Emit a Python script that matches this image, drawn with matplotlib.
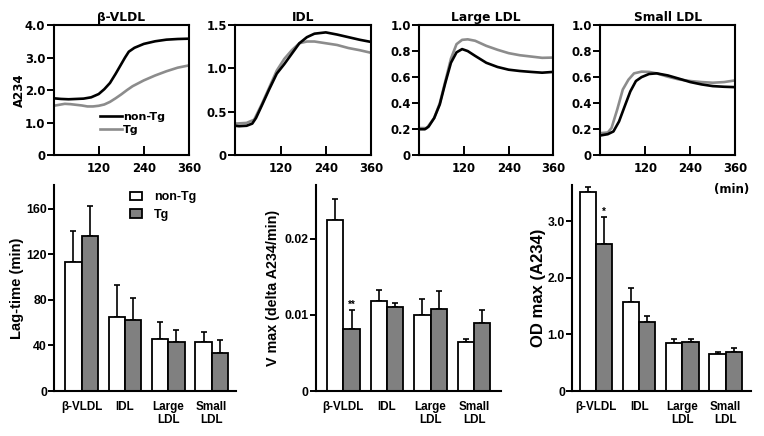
import matplotlib
matplotlib.use("Agg")
import matplotlib.pyplot as plt
from matplotlib.patches import Patch
from matplotlib.lines import Line2D
import numpy as np

# ---------------- data: oxidation kinetics (A234 vs time, min) ----------------
panel_titles = ["β-VLDL", "IDL", "Large LDL", "Small LDL"]

vldl_t_ntg = [0, 20, 40, 60, 80, 100, 120, 135, 150, 165, 180, 190, 200, 215, 240, 270, 300, 330, 360]
vldl_ntg = [1.75, 1.73, 1.72, 1.73, 1.74, 1.78, 1.88, 2.03, 2.22, 2.50, 2.80, 3.00, 3.18, 3.30, 3.42, 3.50, 3.55, 3.57, 3.58]
vldl_t_tg = [0, 15, 30, 45, 60, 75, 90, 105, 120, 135, 150, 165, 180, 195, 210, 240, 270, 300, 330, 360]
vldl_tg = [1.52, 1.55, 1.58, 1.57, 1.55, 1.53, 1.50, 1.50, 1.52, 1.56, 1.64, 1.75, 1.87, 2.00, 2.12, 2.30, 2.45, 2.58, 2.69, 2.76]

idl_t_ntg = [0, 10, 30, 45, 55, 70, 90, 110, 130, 150, 170, 190, 210, 240, 270, 300, 330, 360]
idl_ntg = [0.34, 0.335, 0.34, 0.365, 0.43, 0.57, 0.76, 0.94, 1.05, 1.17, 1.29, 1.36, 1.40, 1.415, 1.39, 1.36, 1.33, 1.305]
idl_t_tg = [0, 30, 50, 70, 90, 110, 130, 150, 170, 190, 210, 240, 270, 300, 330, 360]
idl_tg = [0.365, 0.373, 0.41, 0.586, 0.78, 0.975, 1.11, 1.21, 1.29, 1.31, 1.31, 1.29, 1.27, 1.235, 1.21, 1.18]

lldl_t_ntg = [0, 15, 25, 40, 55, 70, 85, 100, 115, 130, 150, 180, 210, 240, 270, 300, 330, 360]
lldl_ntg = [0.20, 0.20, 0.22, 0.286, 0.39, 0.557, 0.71, 0.79, 0.815, 0.80, 0.763, 0.71, 0.678, 0.657, 0.647, 0.64, 0.634, 0.64]
lldl_t_tg = [0, 20, 40, 55, 70, 85, 100, 115, 130, 150, 180, 210, 240, 270, 300, 330, 360]
lldl_tg = [0.209, 0.209, 0.286, 0.40, 0.57, 0.742, 0.853, 0.886, 0.89, 0.879, 0.84, 0.81, 0.784, 0.768, 0.758, 0.748, 0.75]

sldl_t_ntg = [0, 20, 35, 50, 65, 80, 95, 110, 130, 150, 180, 210, 240, 270, 300, 330, 360]
sldl_ntg = [0.152, 0.162, 0.183, 0.26, 0.376, 0.49, 0.57, 0.60, 0.624, 0.629, 0.613, 0.588, 0.562, 0.544, 0.531, 0.526, 0.523]
sldl_t_tg = [0, 20, 30, 45, 60, 75, 90, 110, 130, 150, 180, 210, 240, 270, 300, 330, 360]
sldl_tg = [0.17, 0.175, 0.21, 0.35, 0.505, 0.58, 0.629, 0.642, 0.64, 0.629, 0.603, 0.582, 0.57, 0.562, 0.557, 0.562, 0.575]

top_ylims = [4.0, 1.5, 1.0, 1.0]
top_yticks = [[0, 1.0, 2.0, 3.0, 4.0], [0, 0.5, 1.0, 1.5],
              [0, 0.2, 0.4, 0.6, 0.8, 1.0], [0, 0.2, 0.4, 0.6, 0.8, 1.0]]
top_xticks = [120, 240, 360]

# ---------------- data: summary bar charts ----------------
categories = ["β-VLDL", "IDL", "Large\nLDL", "Small\nLDL"]

lag_ntg = [113.3, 64.9, 45.8, 43.1]
lag_ntg_err = [27.0, 28.2, 15.2, 9.1]
lag_tg = [136.2, 62.3, 43.1, 33.7]
lag_tg_err = [26.1, 19.0, 10.9, 11.2]

vmax_ntg = [0.0225, 0.0118, 0.0100, 0.00644]
vmax_ntg_err = [0.0027, 0.0015, 0.0021, 0.00045]
vmax_tg = [0.0081, 0.0110, 0.01084, 0.00898]
vmax_tg_err = [0.0026, 0.00056, 0.0023, 0.00164]

od_ntg = [3.515, 1.564, 0.84, 0.653]
od_ntg_err = [0.085, 0.256, 0.078, 0.041]
od_tg = [2.595, 1.224, 0.865, 0.694]
od_tg_err = [0.485, 0.094, 0.055, 0.059]

# ---------------- styling ----------------
W, H = 764, 436
fig = plt.figure(figsize=(W / 100, H / 100), dpi=100)

TOPFONT = "DejaVu Sans"
BOTFONT = "Liberation Sans"
BLACK = "#000000"
GRAY_LINE = "#8c8c8c"
GRAY_BAR = "#808080"


def px_axes(left, right, top, bottom):
    return fig.add_axes([left / W, 1 - bottom / H, (right - left) / W, (bottom - top) / H])


def fmt(v):
    return "0" if v == 0 else f"{v:.1f}"


top_boxes = [(53.5, 189, 25, 155.3), (235.3, 371, 25, 155.3),
             (419.3, 553.3, 25, 155.3), (600.3, 735.3, 25, 155.3)]
curves = [(vldl_t_ntg, vldl_ntg, vldl_t_tg, vldl_tg),
          (idl_t_ntg, idl_ntg, idl_t_tg, idl_tg),
          (lldl_t_ntg, lldl_ntg, lldl_t_tg, lldl_tg),
          (sldl_t_ntg, sldl_ntg, sldl_t_tg, sldl_tg)]

for i, (box, cv) in enumerate(zip(top_boxes, curves)):
    ax = px_axes(*box)
    tn, yn, tt, yt = cv
    ax.plot(tt, yt, color=GRAY_LINE, lw=1.9, solid_capstyle="butt", label="Tg", zorder=2)
    ax.plot(tn, yn, color=BLACK, lw=1.9, solid_capstyle="butt", label="non-Tg", zorder=3)
    ax.set_xlim(0, 360)
    ax.set_ylim(0, top_ylims[i])
    ax.set_xticks(top_xticks)
    ax.set_xticklabels([str(v) for v in top_xticks], fontfamily=TOPFONT,
                       fontweight="bold", fontsize=8.4)
    ax.set_yticks(top_yticks[i])
    ax.set_yticklabels([fmt(v) for v in top_yticks[i]], fontfamily=TOPFONT,
                       fontweight="bold", fontsize=8.4)
    ax.tick_params(axis="x", direction="in", length=6.3, width=1.4, pad=5)
    ax.tick_params(axis="y", direction="out", length=5, width=1.4, pad=1)
    for s in ax.spines.values():
        s.set_linewidth(1.5)
    ax.set_title(panel_titles[i], fontfamily=TOPFONT, fontweight="bold",
                 fontsize=8.8, pad=3)
    if i == 0:
        ax.set_ylabel("A234", fontfamily=TOPFONT, fontweight="bold", fontsize=8.5)
        ax.yaxis.label.set_verticalalignment("center")
        ax.yaxis.set_label_coords(-0.255, 0.5)
        h = [Line2D([], [], color=BLACK, lw=1.9), Line2D([], [], color=GRAY_LINE, lw=1.9)]
        leg = ax.legend(h, ["non-Tg", "Tg"], loc="upper left",
                        bbox_to_anchor=(0.34, 0.33), frameon=False,
                        prop=dict(family=TOPFONT, weight="bold", size=8),
                        handlelength=2.0, handletextpad=0.1, labelspacing=0.25,
                        borderpad=0, borderaxespad=0)

fig.text(749 / W, 1 - 189 / H, "(min)", ha="right", va="center",
         fontfamily=TOPFONT, fontweight="bold", fontsize=8.5)

# ---------------- bar panels ----------------
BW = 0.375
x = np.arange(len(categories))

bar_specs = [
    dict(box=(54.3, 236, 185, 391), xlim=(-0.63, 3.56), ylim=(0, 181),
         yticks=[0, 40, 80, 120, 160], ylabels=["0", "40", "80", "120", "160"],
         data=(lag_ntg, lag_ntg_err, lag_tg, lag_tg_err),
         ylabel="Lag-time (min)", ylsize=10.6, ylx=-0.205, stars=None),
    dict(box=(316, 500.7, 185, 391), xlim=(-0.627, 3.61), ylim=(0, 0.0271),
         yticks=[0, 0.01, 0.02], ylabels=["0", "0.01", "0.02"],
         data=(vmax_ntg, vmax_ntg_err, vmax_tg, vmax_tg_err),
         ylabel="V max (delta A234/min)", ylsize=10.3, ylx=-0.233, stars="**"),
    dict(box=(572.3, 750.7, 185, 391), xlim=(-0.548, 3.58), ylim=(0, 3.64),
         yticks=[0, 1.0, 2.0, 3.0], ylabels=["0", "1.0", "2.0", "3.0"],
         data=(od_ntg, od_ntg_err, od_tg, od_tg_err),
         ylabel="OD max (A234)", ylsize=12.0, ylx=-0.192, stars="*"),
]

for j, sp in enumerate(bar_specs):
    ax = px_axes(*sp["box"])
    ntg, ntg_e, tg, tg_e = sp["data"]
    ax.bar(x - BW / 2, ntg, BW, color="white", edgecolor=BLACK, linewidth=1.3,
           label="non-Tg", zorder=2)
    ax.bar(x + BW / 2, tg, BW, color=GRAY_BAR, edgecolor=BLACK, linewidth=1.3,
           label="Tg", zorder=2)
    ax.errorbar(x - BW / 2, ntg, yerr=[np.zeros(len(ntg)), ntg_e], fmt="none",
                ecolor=BLACK, elinewidth=1.2, capsize=2.4, capthick=1.2, zorder=1)
    ax.errorbar(x + BW / 2, tg, yerr=[np.zeros(len(tg)), tg_e], fmt="none",
                ecolor=BLACK, elinewidth=1.2, capsize=2.4, capthick=1.2, zorder=1)
    ax.set_xlim(*sp["xlim"])
    ax.set_ylim(*sp["ylim"])
    ax.set_xticks(x)
    ax.set_xticklabels(categories, fontfamily=BOTFONT, fontweight="bold",
                       fontsize=8.4, linespacing=1.15)
    ax.set_yticks(sp["yticks"])
    ax.set_yticklabels(sp["ylabels"], fontfamily=BOTFONT, fontweight="bold", fontsize=8.8)
    ax.tick_params(axis="x", length=0, pad=7)
    ax.tick_params(axis="y", direction="out", length=4.3, width=1.4, pad=1)
    for k in ("top", "right"):
        ax.spines[k].set_visible(False)
    for k in ("left", "bottom"):
        ax.spines[k].set_linewidth(1.5)
    ax.set_ylabel(sp["ylabel"], fontfamily=BOTFONT, fontweight="bold", fontsize=sp["ylsize"])
    ax.yaxis.label.set_verticalalignment("center")
    ax.yaxis.set_label_coords(sp["ylx"], 0.5)
    if sp["stars"]:
        ax.text(x[0] + BW / 2, tg[0] + tg_e[0], sp["stars"], ha="center", va="bottom",
                fontfamily=BOTFONT, fontweight="bold", fontsize=7)
    if j == 0:
        handles = [Patch(facecolor="white", edgecolor=BLACK, linewidth=1.3),
                   Patch(facecolor=GRAY_BAR, edgecolor=BLACK, linewidth=1.3)]
        ax.legend(handles, ["non-Tg", "Tg"], loc="upper left",
                  bbox_to_anchor=(0.4166, 0.969), frameon=False,
                  prop=dict(family=BOTFONT, weight="bold", size=9),
                  handlelength=0.96, handleheight=0.72, handletextpad=0.96,
                  labelspacing=0.45, borderpad=0, borderaxespad=0)

fig.savefig("out.png", dpi=100)
